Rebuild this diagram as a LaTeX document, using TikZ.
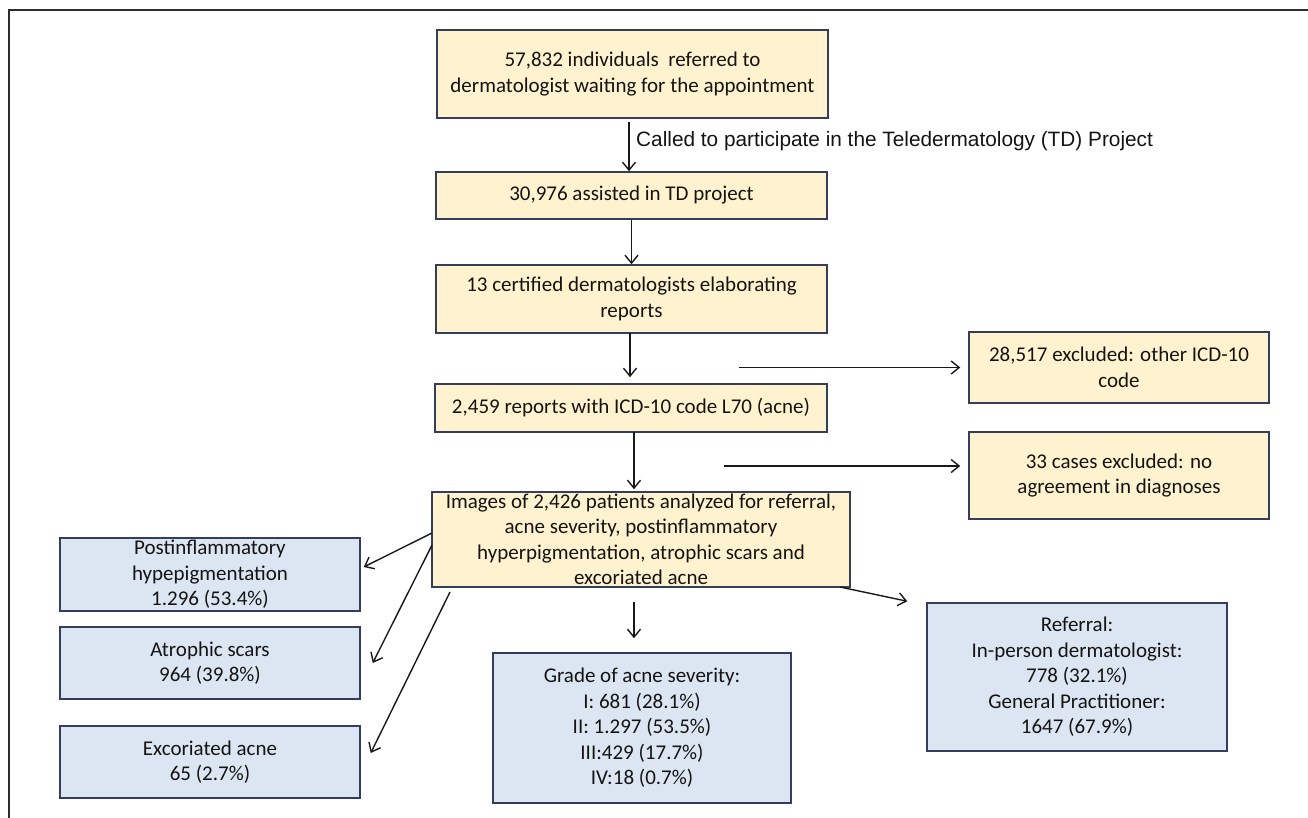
\documentclass[tikz,border=0pt]{standalone}
\usepackage{fontspec}
\setmainfont{Carlito}
\newfontfamily\arialfont{Liberation Sans}
\usetikzlibrary{arrows.meta}
\definecolor{yfill}{RGB}{255,242,206}
\definecolor{bfill}{RGB}{220,230,242}
\definecolor{boxline}{RGB}{52,62,92}
\definecolor{txt}{RGB}{20,20,20}
\definecolor{framegray}{RGB}{45,45,45}
\begin{document}
\begin{tikzpicture}[x=1pt,y=-1pt,
  box/.style={draw=boxline, line width=1.5pt, align=center, inner sep=0pt, text=txt,
    font=\fontsize{21}{25.5}\selectfont},
  ybox/.style={box, fill=yfill},
  bbox/.style={box, fill=bfill},
  arr/.style={-{Straight Barb[length=8pt,width=13pt,line width=1.4pt]}, line width=1.4pt, draw=black!90}]
\useasboundingbox (0,0) rectangle (1308,818);
\fill[white] (0,0) rectangle (1308,818);
\draw[line width=2pt, framegray] (8.5,818) -- (8.5,10.5) -- (1310,10.5);

\node[ybox, minimum width=391pt, minimum height=88pt] (b1) at (632.5,74)
  {57,832 individuals~ referred to\\dermatologist waiting for the appointment};
\node[ybox, minimum width=391pt, minimum height=47pt] (b2) at (631.5,195.5)
  {30,976 assisted in TD project};
\node[ybox, minimum width=391pt, minimum height=68pt] (b3) at (631.5,299)
  {13 certified dermatologists elaborating\\reports};
\node[ybox, minimum width=392pt, minimum height=48pt] (b4) at (631,408)
  {2,459 reports with ICD-10 code L70 (acne)};
\node[ybox, minimum width=418pt, minimum height=95pt] (img) at (641,539.5)
  {Images of 2,426 patients analyzed for referral,\\acne severity, postinflammatory\\hyperpigmentation, atrophic scars and\\excoriated acne};
\node[ybox, minimum width=300pt, minimum height=71pt] (ex1) at (1119,367.5)
  {28,517 excluded: other ICD-10\\code};
\node[ybox, minimum width=300pt, minimum height=87pt] (ex2) at (1119,475.5)
  {33 cases excluded: no\\agreement in diagnoses};
\node[bbox, minimum width=300pt, minimum height=73pt] (post) at (210,574.5)
  {Postinflammatory\\hypepigmentation\\1.296 (53.4\%)};
\node[bbox, minimum width=300pt, minimum height=72pt] (atro) at (210,663)
  {Atrophic scars\\964 (39.8\%)};
\node[bbox, minimum width=300pt, minimum height=72pt] (exc) at (210,762)
  {Excoriated acne\\65 (2.7\%)};
\node[bbox, minimum width=298pt, minimum height=150pt] (grade) at (642,728)
  {Grade of acne severity:\\I: 681 (28.1\%)\\II: 1.297 (53.5\%)\\III:429 (17.7\%)\\IV:18 (0.7\%)};
\node[bbox, minimum width=300pt, minimum height=148pt] (ref) at (1077,677)
  {Referral:\\In-person dermatologist:\\778 (32.1\%)\\General Practitioner:\\1647 (67.9\%)};

% vertical flow
\coordinate (a1) at (629,122);
\draw[arr] (a1) -- (a1 |- b2.north);
\node[anchor=west, inner sep=0pt, font=\arialfont\fontsize{20.8}{24}\selectfont, text=txt] (lab) at (636,141)
  {Called to participate in the Teledermatology (TD) Project};
\draw[arr] (b2.south) -- (b2.south |- b3.north);
\coordinate (a3) at (630,333);
\draw[arr] (a3) -- ([yshift=6pt]a3 |- b4.north);
\coordinate (a4) at (634,432);
\draw[arr] (a4) -- ([yshift=2pt]a4 |- img.north);
\coordinate (a5) at (634,602);
\draw[arr] (a5) -- ([yshift=14pt]a5 |- grade.north);

% exclusions
\coordinate (e1) at (739,367.5);
\draw[arr] (e1) -- ([xshift=-8pt]ex1.west);
\coordinate (e2) at (724,466);
\draw[arr] (e2) -- ([shift={(-8,-9.5)}]ex2.west);

% left branches
\coordinate (l1) at (432,533);
\draw[arr] (l1) -- ([shift={(3,-7.5)}]post.east);
\coordinate (l2) at (432,545);
\draw[arr] (l2) -- ([shift={(12,0)}]atro.east);
\coordinate (l3) at (450,592);
\draw[arr] (l3) -- ([shift={(10,-9)}]exc.east);

% referral
\coordinate (r1) at (840,587);
\draw[arr] (r1) -- ([shift={(-19,-1)}]ref.north west);
\end{tikzpicture}
\end{document}
